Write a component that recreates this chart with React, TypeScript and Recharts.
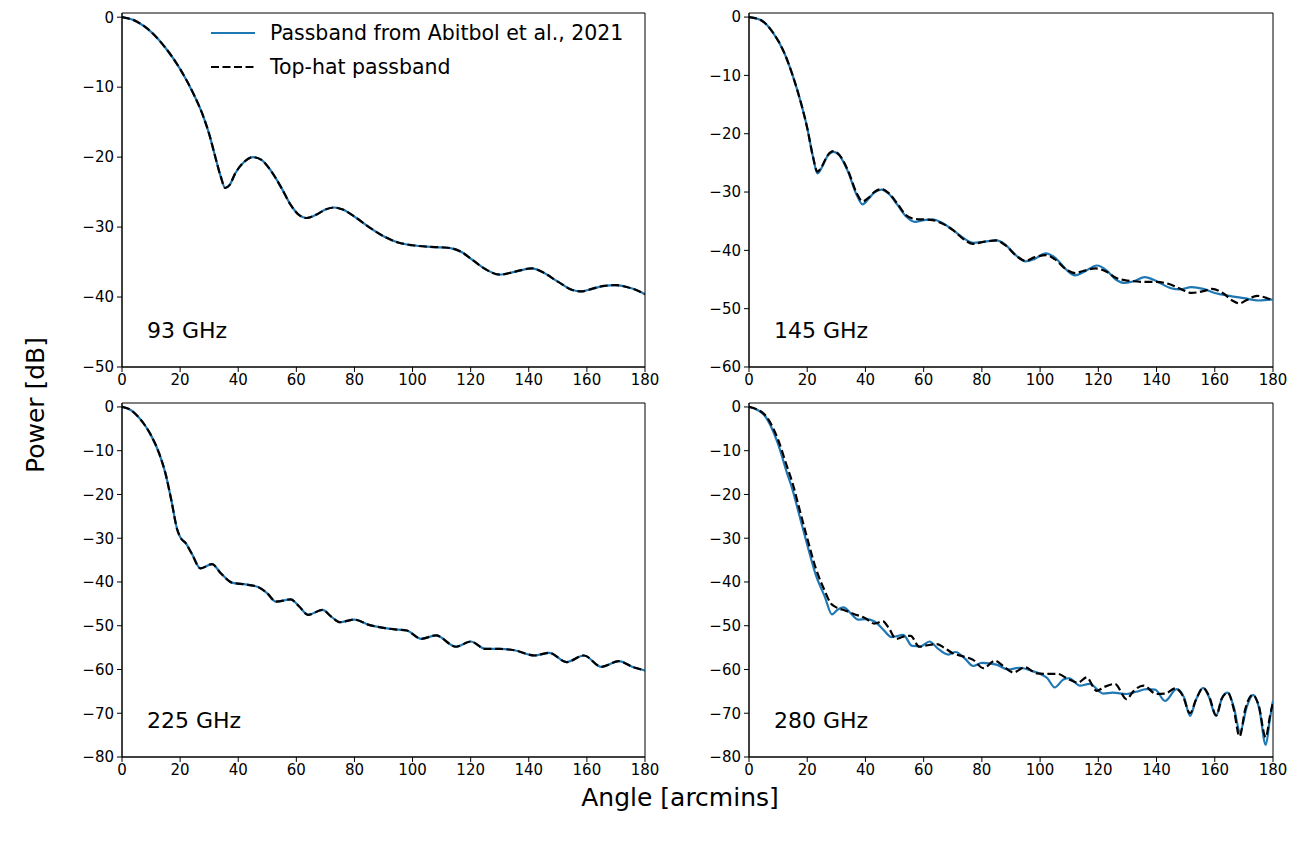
import React from 'react';
import { LineChart, Line, XAxis, YAxis, ReferenceArea } from 'recharts';

const angleTicks = [0, 20, 40, 60, 80, 100, 120, 140, 160, 180];

// 93 GHz (both passbands lie on top of each other)
const angle93 = [0, 5, 10, 15, 20, 25, 28, 30, 32, 34, 35.5, 37, 39, 42, 45, 48, 51, 55, 58, 61, 63.5, 67, 70, 73, 76, 80, 85, 90, 95, 100, 105, 110, 113, 117, 120, 125, 130, 135, 141, 145, 150, 155, 158, 162, 166, 170, 174, 177, 180];
const abitbol93 = [0, -0.6, -2.1, -4.4, -7.4, -11.3, -14.2, -16.7, -19.8, -22.8, -24.4, -24, -22.3, -20.7, -20, -20.4, -21.8, -24.5, -26.8, -28.3, -28.7, -28.2, -27.5, -27.2, -27.5, -28.5, -30, -31.3, -32.2, -32.6, -32.8, -32.9, -33, -33.6, -34.5, -36, -36.8, -36.4, -35.9, -36.5, -37.8, -39, -39.2, -38.8, -38.4, -38.3, -38.6, -39, -39.6];
const topHat93 = abitbol93;

// 145 GHz
const angle145Abitbol = [0, 4, 8, 12, 15, 18, 20, 22, 23.5, 25, 27, 29, 31, 34, 37, 39, 41, 43, 45.5, 48, 51, 54, 57, 60, 63, 66, 70, 74, 77, 81, 85, 88, 92, 95, 98, 102, 105, 109, 112, 115, 119.5, 123, 126, 129, 132, 136, 140, 145, 148, 152, 156, 160, 165, 170, 175, 180];
const abitbol145 = [0, -0.5, -2.5, -6, -10, -15, -19, -24, -26.8, -25.8, -23.8, -23.1, -23.7, -26.5, -30.5, -32.1, -31.2, -30.1, -29.6, -30.3, -32.2, -34.2, -35.1, -34.8, -34.7, -35.2, -36.5, -38, -38.7, -38.5, -38.3, -39, -41, -41.9, -41.5, -40.5, -41.2, -43.3, -44.3, -43.7, -42.6, -43.5, -45, -45.6, -45.3, -44.6, -45.3, -46.5, -46.7, -46.3, -46.6, -47.3, -47.8, -48.2, -48.6, -48.4];
const angle145TopHat = [0, 4, 8, 12, 15, 18, 20, 22, 23.5, 25, 27, 29, 31, 34, 37, 39, 41, 43, 45.5, 48, 51, 54, 57, 60, 63, 66, 70, 74, 77, 81, 85, 88, 92, 95, 98, 102, 105, 109, 112, 115, 119, 123, 126, 129, 132, 136, 140, 145, 149, 152, 156, 159, 163, 166, 168.5, 171, 174.5, 178, 180];
const topHat145 = [0, -0.5, -2.5, -6, -10, -15, -19, -24, -26.5, -25.6, -23.7, -23, -23.6, -26.3, -30.2, -31.6, -31, -30, -29.5, -30.2, -32, -34, -34.6, -34.7, -34.8, -35.3, -36.5, -38.2, -38.9, -38.5, -38.3, -39.1, -41, -41.8, -41.2, -40.8, -41.5, -43.3, -43.9, -43.5, -43.1, -43.7, -44.7, -45.1, -45.3, -45.4, -45.4, -45.9, -46.8, -47.3, -47, -46.6, -47.4, -48.6, -49.1, -48.5, -47.8, -48.2, -48.6];

// 225 GHz (both passbands lie on top of each other)
const angle225 = [0, 3, 5.5, 8, 10, 13, 15, 17, 19, 20, 22, 24, 27, 31, 34, 38, 43, 47, 50, 53, 58, 61, 64, 69, 72, 75, 80, 85, 90, 95, 98, 103, 108, 115, 120, 125, 130, 135, 142, 147, 153, 159, 165, 171, 176, 180];
const abitbol225 = [0, -0.7, -2.2, -4.3, -6.5, -11, -15.3, -21.4, -28, -29.7, -31.2, -33.5, -36.9, -35.9, -38, -40.2, -40.6, -41.2, -42.6, -44.5, -44, -45.6, -47.5, -46.4, -47.9, -49.2, -48.6, -49.8, -50.5, -50.9, -51.1, -53, -52.2, -54.8, -53.6, -55.3, -55.3, -55.6, -56.8, -56.2, -58.3, -56.8, -59.4, -58.1, -59.5, -60.2];
const topHat225 = abitbol225;

// 280 GHz
const angle280Abitbol = [0, 5, 10, 13, 15, 17, 20, 23, 26, 28.5, 30.5, 32.5, 35, 37.5, 40, 43, 46, 49, 53, 56, 59, 62, 65, 68.5, 71, 74, 77, 80, 85, 89, 93, 97, 100, 102.5, 105, 108, 110, 113.7, 117, 121.7, 125, 129.7, 133, 136.6, 139.5, 142.9, 146.9, 149.5, 151.5, 153.5, 156, 158, 160.4, 162.5, 164.4, 166.5, 168.7, 171, 173.2, 175.3, 177.5, 179, 180];
const abitbol280 = [0, -1.7, -8.5, -15, -19, -24, -31.5, -38.5, -43.3, -47.4, -46.3, -45.8, -47.2, -48.6, -48.5, -49, -50.8, -52.6, -52.1, -54.6, -54.7, -53.6, -55.3, -56.6, -56, -57.4, -59.2, -58.5, -58.9, -60, -59.6, -60.3, -61, -62, -64.1, -62.3, -62, -63.7, -63.3, -65.5, -65.3, -65.6, -65.1, -64.5, -64.6, -67.2, -64.5, -66.5, -70.6, -67, -64.2, -66.3, -70.6, -66.5, -65.3, -68.5, -74.3, -68.5, -65.8, -69, -77.2, -71, -67.2];
const angle280TopHat = [0, 5, 10, 13, 15, 17, 20, 23, 26, 28, 30, 33, 36, 40, 43, 46, 48, 50.5, 53, 55.5, 58.5, 61, 64.5, 67, 70, 73.5, 77, 80.5, 84.5, 87.5, 90.8, 94.8, 98.8, 102, 106, 109.7, 113, 116, 119.4, 122, 125.7, 129.7, 132, 135.5, 140, 143, 146.5, 149, 151.5, 153.5, 156, 158, 160.5, 162.5, 164.5, 166.5, 168.5, 170.5, 173, 175, 177.5, 179, 180];
const topHat280 = [0, -1.5, -7.5, -13.5, -17.5, -22.5, -30, -37, -42, -44.8, -45.8, -46.5, -47.3, -48.3, -49.5, -49, -50.5, -53, -52.5, -52.3, -54.8, -54.5, -54.2, -55, -56.3, -57, -57.8, -59.7, -58, -59.3, -60.7, -59.5, -60.9, -61, -61, -62.2, -63, -61.8, -64.9, -64, -63.3, -66.8, -65, -63.7, -65.6, -65.5, -64.3, -66, -70, -67, -64.2, -66, -70.5, -66.5, -65.3, -69, -75.3, -69, -65.8, -68, -75.5, -70.5, -67.5];

const legendItems = [
  { name: 'Passband from Abitbol et al., 2021', color: '#1f77b4', dash: undefined },
  { name: 'Top-hat passband', color: '#000000', dash: '8 3.5' },
];

const font = '"DejaVu Sans", sans-serif';
const minus = (v: number) => String(v).replace('-', '\u2212');
const toPoints = (xs: number[], ys: number[]) => xs.map((x, i) => ({ x, y: ys[i] }));

interface PanelProps {
  left: number;
  top: number;
  w: number;
  h: number;
  yMin: number;
  yTop: number;
  yTicks: number[];
  blue: { x: number; y: number }[];
  black: { x: number; y: number }[];
  label: string;
}

const Panel = ({ left, top, w, h, yMin, yTop, yTicks, blue, black, label }: PanelProps) => (
  <div style={{ position: 'absolute', left: left - 60, top: top - 5 }}>
    <LineChart width={w + 85} height={h + 35} margin={{ top: 5, right: 25, left: 0, bottom: 0 }}>
      <XAxis
        type="number"
        dataKey="x"
        domain={[0, 180]}
        ticks={angleTicks}
        height={30}
        tickSize={5}
        tickMargin={2}
        axisLine={{ stroke: '#000' }}
        tickLine={{ stroke: '#000' }}
        tick={{ fill: '#000', fontSize: 15, fontFamily: font }}
        allowDataOverflow
      />
      <YAxis
        type="number"
        domain={[yMin, yTop]}
        ticks={yTicks}
        width={60}
        tickSize={5}
        tickMargin={3}
        tickFormatter={minus}
        axisLine={{ stroke: '#000' }}
        tickLine={{ stroke: '#000' }}
        tick={{ fill: '#000', fontSize: 15, fontFamily: font }}
        allowDataOverflow
      />
      <ReferenceArea x1={0} x2={180} y1={yMin} y2={yTop} fill="none" stroke="#000" strokeWidth={1} ifOverflow="visible" />
      <Line data={blue} dataKey="y" type="monotone" stroke="#1f77b4" strokeWidth={2.2} dot={false} isAnimationActive={false} />
      <Line data={black} dataKey="y" type="monotone" stroke="#000" strokeWidth={2.2} strokeDasharray="8 3.5" dot={false} isAnimationActive={false} />
    </LineChart>
    <div style={{ position: 'absolute', left: 85, top: h - 44, fontSize: 22, lineHeight: '26px', fontFamily: font, color: '#000', whiteSpace: 'nowrap' }}>
      {label}
    </div>
  </div>
);

export default function App() {
  return (
    <div style={{ position: 'absolute', left: 0, top: 0, width: 1309, height: 842, background: '#fff', fontFamily: font }}>
      <Panel left={122} top={13} w={523} h={354} yMin={-50} yTop={0.6} yTicks={[0, -10, -20, -30, -40, -50]}
        blue={toPoints(angle93, abitbol93)} black={toPoints(angle93, topHat93)} label="93 GHz" />
      <Panel left={749} top={13} w={524} h={354} yMin={-60} yTop={0.7} yTicks={[0, -10, -20, -30, -40, -50, -60]}
        blue={toPoints(angle145Abitbol, abitbol145)} black={toPoints(angle145TopHat, topHat145)} label="145 GHz" />
      <Panel left={122} top={403} w={523} h={354} yMin={-80} yTop={0.9} yTicks={[0, -10, -20, -30, -40, -50, -60, -70, -80]}
        blue={toPoints(angle225, abitbol225)} black={toPoints(angle225, topHat225)} label="225 GHz" />
      <Panel left={749} top={403} w={524} h={354} yMin={-80} yTop={0.9} yTicks={[0, -10, -20, -30, -40, -50, -60, -70, -80]}
        blue={toPoints(angle280Abitbol, abitbol280)} black={toPoints(angle280TopHat, topHat280)} label="280 GHz" />

      <div style={{ position: 'absolute', left: 205, top: 16 }}>
        {legendItems.map((item) => (
          <div key={item.name} style={{ display: 'flex', alignItems: 'center', height: 34 }}>
            <svg width={58} height={12}>
              <line x1={6} y1={6} x2={50} y2={6} stroke={item.color} strokeWidth={2.2} strokeDasharray={item.dash} />
            </svg>
            <span style={{ fontSize: 20.5, color: '#000', marginLeft: 7, whiteSpace: 'nowrap' }}>{item.name}</span>
          </div>
        ))}
      </div>

      <div style={{ position: 'absolute', left: 35, top: 405, transform: 'translate(-50%, -50%) rotate(-90deg)', fontSize: 25, whiteSpace: 'nowrap', color: '#000' }}>
        Power [dB]
      </div>
      <div style={{ position: 'absolute', left: 680, top: 797, transform: 'translate(-50%, -50%)', fontSize: 25, whiteSpace: 'nowrap', color: '#000' }}>
        Angle [arcmins]
      </div>
    </div>
  );
}
